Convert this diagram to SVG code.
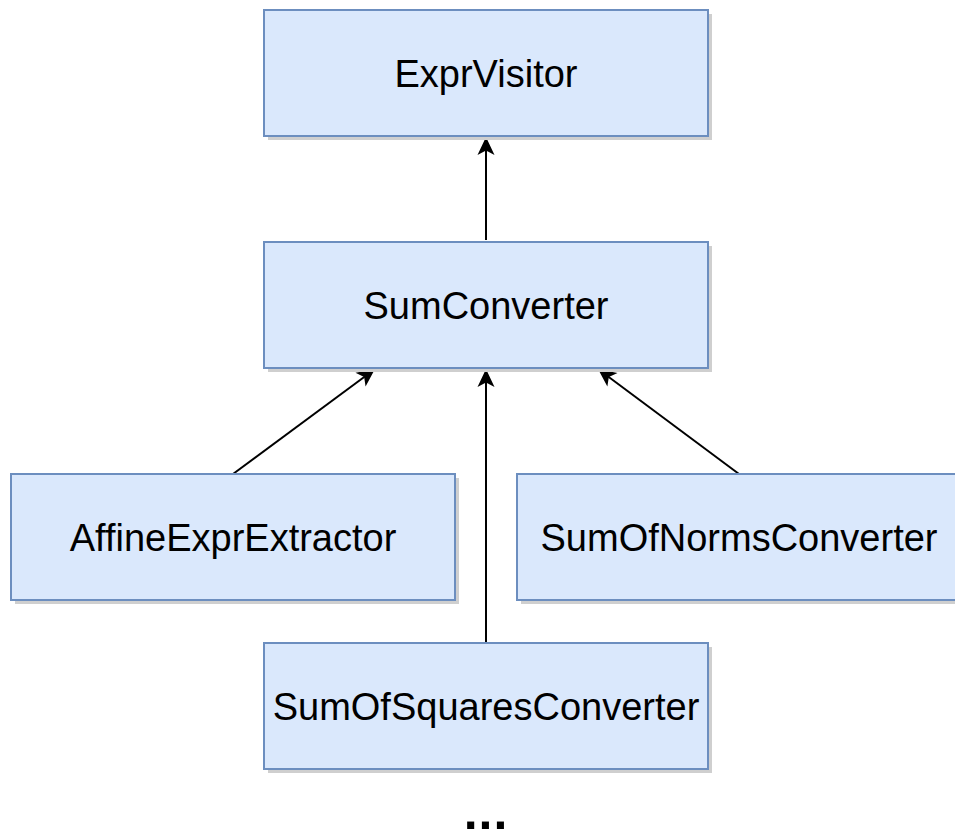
<svg xmlns="http://www.w3.org/2000/svg" width="955" height="832" viewBox="0 0 955 832">
  <defs>
    <style>
      .shadow { fill: #cfcfcf; }
      .box { fill: #dae8fc; stroke: #6c8ebf; stroke-width: 2; }
      .label { font-family: "Liberation Sans", Arial, sans-serif; font-size: 38px; fill: #000; text-anchor: middle; }
      .edge { fill: none; stroke: #000; stroke-width: 2; }
    </style>
    <marker id="arrow" markerUnits="userSpaceOnUse" markerWidth="22" markerHeight="22" viewBox="0 0 22 22" refX="20" refY="11" orient="auto">
      <path d="M20,11 L2,2.5 L6.5,11 L2,19.5 Z" fill="#000"/>
    </marker>
  </defs>

  <rect width="955" height="832" fill="#fff"/>

  <!-- inheritance connectors -->
  <g id="connectors">
    <line class="edge" x1="486" y1="240" x2="486" y2="137" marker-end="url(#arrow)"/>
    <line class="edge" x1="233" y1="474" x2="375" y2="369" marker-end="url(#arrow)"/>
    <line class="edge" x1="486" y1="643" x2="486" y2="369" marker-end="url(#arrow)"/>
    <line class="edge" x1="739" y1="474" x2="598" y2="369" marker-end="url(#arrow)"/>
  </g>

  <g id="expr-visitor">
    <rect class="shadow" x="268" y="14" width="444" height="126"/>
    <rect class="box" x="264" y="10" width="444" height="126"/>
    <text class="label" x="486" y="87">ExprVisitor</text>
  </g>

  <g id="sum-converter">
    <rect class="shadow" x="268" y="246" width="444" height="126"/>
    <rect class="box" x="264" y="242" width="444" height="126"/>
    <text class="label" x="486" y="319">SumConverter</text>
  </g>

  <g id="affine-expr-extractor">
    <rect class="shadow" x="15" y="478" width="444" height="126"/>
    <rect class="box" x="11" y="474" width="444" height="126"/>
    <text class="label" x="233" y="551">AffineExprExtractor</text>
  </g>

  <g id="sum-of-norms-converter">
    <rect class="shadow" x="521" y="478" width="444" height="126"/>
    <rect class="box" x="517" y="474" width="444" height="126"/>
    <text class="label" x="739" y="551">SumOfNormsConverter</text>
  </g>

  <g id="sum-of-squares-converter">
    <rect class="shadow" x="268" y="647" width="444" height="126"/>
    <rect class="box" x="264" y="643" width="444" height="126"/>
    <text class="label" x="486" y="720">SumOfSquaresConverter</text>
  </g>

  <g id="more">
    <text class="label" x="486" y="829" style="font-size:50px;font-weight:bold;letter-spacing:1px">...</text>
  </g>
</svg>
